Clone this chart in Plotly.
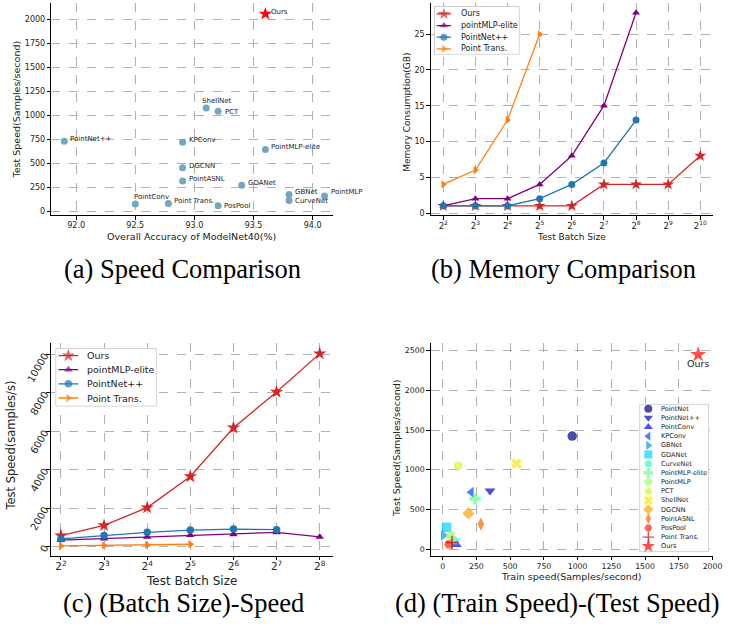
import numpy as np
import plotly.graph_objects as go

W, H = 733, 626

# ---------------- data ----------------
# (a) Speed comparison: accuracy vs test speed
a_models = ["Ours", "ShellNet", "PCT", "PointNet++", "KPConv", "PointMLP-elite", "DGCNN",
            "PointASNL", "GDANet", "GBNet", "PointMLP", "CurveNet", "PointConv",
            "Point Trans.", "PosPool"]
a_accuracy = [93.6, 93.1, 93.2, 91.9, 92.9, 93.6, 92.9, 92.9, 93.4, 93.8, 94.1, 93.8, 92.5, 92.78, 93.2]
a_test_speed = [2055, 1076, 1042, 730, 720, 644, 453, 315, 273, 176, 160, 114, 76, 83, 59]

# (b) Memory comparison
b_batch = [4, 8, 16, 32, 64, 128, 256, 512, 1024]
b_ours = [1, 1, 1, 1, 1, 4, 4, 4, 8]
b_elite = [1, 2, 2, 4, 8, 15, 28]
b_pointnet2 = [1, 1, 1, 2, 4, 7, 13]
b_pointtrans = [4, 6, 13, 25]

# (c) Batch size vs speed
c_batch = [4, 8, 16, 32, 64, 128, 256]
c_ours = [570, 1100, 2030, 3650, 6190, 8050, 10050]
c_elite = [330, 410, 500, 590, 640, 740, 500]
c_pointnet2 = [400, 570, 740, 860, 910, 880]
c_pointtrans = [35, 55, 85, 120]

line_names = ["Ours", "pointMLP-elite", "PointNet++", "Point Trans."]

# (d) Train speed vs test speed
d_models = ["PointNet", "PointNet++", "PointConv", "KPConv", "GBNet", "GDANet", "CurveNet",
            "PointMLP-elite", "PointMLP", "PCT", "ShellNet", "DGCNN", "PointASNL", "PosPool",
            "Point Trans.", "Ours"]
d_train_speed = [960, 351, 102, 212, 5, 30, 90, 241, 58, 115, 548, 192, 283, 46, 70, 1893]
d_test_speed = [1424, 735, 58, 718, 175, 278, 109, 635, 168, 1048, 1078, 451, 317, 62, 85, 2448]

# tick labels
a_xticks = [92.0, 92.5, 93.0, 93.5, 94.0]
a_yticks = [0, 250, 500, 750, 1000, 1250, 1500, 1750, 2000]
b_exps = [2, 3, 4, 5, 6, 7, 8, 9, 10]
b_yticks = [0, 5, 10, 15, 20, 25]
c_exps = [2, 3, 4, 5, 6, 7, 8]
c_yticks = [0, 2000, 4000, 6000, 8000, 10000]
d_xticks = [0, 250, 500, 750, 1000, 1250, 1500, 1750, 2000]
d_yticks = [0, 500, 1000, 1500, 2000, 2500]

captions = ["(a) Speed Comparison", "(b) Memory Comparison",
            "(c) (Batch Size)-Speed", "(d) (Train Speed)-(Test Speed)"]

# ---------------- styles ----------------
line_colors = ["#d62728", "#800080", "#1f77b4", "#ff7f0e"]
line_symbols = ["star", "triangle-up", "circle", "triangle-right"]


def jet(t):
    r = np.interp(t, [0, .35, .66, .89, 1], [0, 0, 1, 1, .5])
    g = np.interp(t, [0, .125, .375, .64, .91, 1], [0, 0, 1, 1, 0, 0])
    b = np.interp(t, [0, .11, .34, .65, 1], [.5, 1, 1, 0, 0])
    return "rgb(%d,%d,%d)" % (r * 255, g * 255, b * 255)


d_colors = [jet(i / 15) for i in range(15)] + ["#ff0000"]
d_symbols = ["circle", "triangle-down", "triangle-up", "triangle-left", "triangle-right",
             "square", "pentagon", "cross", "octagon", "hexagon", "x", "diamond",
             "diamond-tall", "hexagon2", "cross-thin", "star"]
d_sizes = [9.5] * 15 + [12]
d_lw = [1.6 if s == "cross-thin" else 0 for s in d_symbols]


def dx(l, r):
    return [l / W, r / W]


def dy(t, b):
    return [1 - b / H, 1 - t / H]


def px(x):
    return x / W


def py(y):
    return 1 - y / H


A = (52, 3, 338, 216)
B = (436.7, 2.7, 722.7, 216)
C = (51.7, 344, 337.7, 557.7)
D = (436.7, 344, 722.7, 557.7)

TICKC = "#222222"
base_axis = dict(showline=True, linecolor="black", linewidth=1, mirror=False,
                 ticks="outside", ticklen=3.5, tickwidth=0.8, tickcolor="black",
                 showgrid=True, gridcolor="#b0b0b0", griddash="dash", gridwidth=0.8,
                 zeroline=False, fixedrange=True)


def font(size, color=TICKC):
    return dict(family="DejaVu Sans", size=size, color=color)


fig = go.Figure()

# ---------------- (a) ----------------
fig.add_trace(go.Scatter(x=a_accuracy[1:], y=a_test_speed[1:], mode="markers",
                         marker=dict(color="#72a7bf", size=7), xaxis="x", yaxis="y"))
fig.add_trace(go.Scatter(x=a_accuracy[:1], y=a_test_speed[:1], mode="markers",
                         marker=dict(color="red", size=10, symbol="star"), xaxis="x", yaxis="y"))
a_shift = {"ShellNet": (-6, 7), "PCT": (5, -1), "PointConv": (-3, 7.5), "CurveNet": (4, -1),
           "PosPool": (4, 0), "PointMLP": (4, 4.5)}
annotations = []
for name, xv, yv in zip(a_models, a_accuracy, a_test_speed):
    sx, sy = a_shift.get(name, (4, 2.3))
    annotations.append(dict(x=xv, y=yv, xref="x", yref="y", text=name, showarrow=False,
                            xanchor="left", yanchor="middle", xshift=sx, yshift=sy,
                            font=font(7)))

# ---------------- (b) ----------------
b_series = [b_ours, b_elite, b_pointnet2, b_pointtrans]
b_sizes = [9, 7, 7, 7]
for name, ys, col, sym, sz in zip(line_names, b_series, line_colors, line_symbols, b_sizes):
    fig.add_trace(go.Scatter(x=b_batch[:len(ys)], y=ys, mode="lines+markers", name=name,
                             line=dict(color=col, width=1.3),
                             marker=dict(color=col, symbol=sym, size=sz),
                             xaxis="x2", yaxis="y2"))

# ---------------- (c) ----------------
c_series = [c_ours, c_elite, c_pointnet2, c_pointtrans]
c_sizes = [10, 7.5, 7.5, 7.5]
for name, ys, col, sym, sz in zip(line_names, c_series, line_colors, line_symbols, c_sizes):
    fig.add_trace(go.Scatter(x=c_batch[:len(ys)], y=ys, mode="lines+markers", name=name,
                             line=dict(color=col, width=1.3),
                             marker=dict(color=col, symbol=sym, size=sz),
                             xaxis="x3", yaxis="y3"))

# ---------------- (d) ----------------
fig.add_trace(go.Scatter(x=d_train_speed, y=d_test_speed, mode="markers",
                         marker=dict(color=d_colors, symbol=d_symbols, size=d_sizes,
                                     line=dict(color=d_colors, width=d_lw)),
                         xaxis="x4", yaxis="y4"))
annotations.append(dict(x=d_train_speed[-1], y=d_test_speed[-1], xref="x4", yref="y4",
                        text="Ours", showarrow=False, xanchor="center", yanchor="middle",
                        yshift=-9, font=font(9.5)))

# ---------------- manual legends ----------------
legends = [
    dict(ax="5", box=(440, 6, 527, 55), row0=14, step=11.67, line=(442.7, 457.3), mark=450,
         text=465, fs=8, names=line_names, colors=line_colors, symbols=line_symbols,
         sizes=[9, 7, 7, 7], lines=True),
    dict(ax="6", box=(56, 349, 159, 408), row0=356.7, step=14.2, line=(59.3, 79.3), mark=69.3,
         text=86, fs=9.5, names=line_names, colors=line_colors, symbols=line_symbols,
         sizes=[10, 7.5, 7.5, 7.5], lines=True),
    dict(ax="7", box=(648, 405, 719, 554), row0=410, step=9.2, line=None, mark=657.3,
         text=668, fs=6.6, names=d_models, colors=d_colors, symbols=d_symbols,
         sizes=[8] * 15 + [10], lines=False),
]
shapes = []
for lg in legends:
    l, t, r, b = lg["box"]
    xa, ya = "x" + lg["ax"], "y" + lg["ax"]
    rows = [lg["row0"] + i * lg["step"] for i in range(len(lg["names"]))]
    shapes.append(dict(type="rect", xref=xa, yref=ya, x0=l + 0.5, x1=r - 0.5, y0=t + 0.5,
                       y1=b - 0.5, fillcolor="white", line=dict(color="#cccccc", width=1),
                       layer="below"))
    if lg["lines"]:
        for yrow, col in zip(rows, lg["colors"]):
            fig.add_trace(go.Scatter(x=list(lg["line"]), y=[yrow, yrow], mode="lines",
                                     line=dict(color=col, width=1.3),
                                     xaxis=xa, yaxis=ya, hoverinfo="skip"))
    fig.add_trace(go.Scatter(x=[lg["mark"]] * len(rows), y=rows, mode="markers",
                             marker=dict(color=lg["colors"], symbol=lg["symbols"],
                                         size=lg["sizes"],
                                         line=dict(color=lg["colors"],
                                                   width=[1.4 if s == "cross-thin" else 0
                                                          for s in lg["symbols"]])),
                             xaxis=xa, yaxis=ya, hoverinfo="skip"))
    for yrow, name in zip(rows, lg["names"]):
        annotations.append(dict(x=lg["text"], y=yrow, xref=xa, yref=ya, text=name,
                                showarrow=False, xanchor="left", yanchor="middle",
                                font=font(lg["fs"])))
    fig.update_layout(**{
        "xaxis" + lg["ax"]: dict(domain=dx(l, r), range=[l, r], visible=False,
                                 anchor="y" + lg["ax"], fixedrange=True),
        "yaxis" + lg["ax"]: dict(domain=dy(t, b), range=[b, t], visible=False,
                                 anchor="x" + lg["ax"], fixedrange=True),
    })

# ---------------- axis titles (as text) ----------------
axis_titles = [
    ("Overall Accuracy of ModelNet40(%)", 194, 237.5, 0, 9.5),
    ("Test Speed(Samples/second)", 17, 110, -90, 9.5),
    ("Test Batch Size", 579.7, 237.5, 0, 9),
    ("Memory Consumption(GB)", 412.7, 113, -90, 9),
    ("Test Batch Size", 194, 583, 0, 12),
    ("Test Speed(samples/s)", 11.7, 447.5, -90, 11.5),
    ("Train speed(Samples/second)", 579, 578, 0, 9.5),
    ("Test Speed(Samples/second)", 402, 450, -90, 9.5),
]
for txt, xpx, ypx, ang, fs in axis_titles:
    annotations.append(dict(x=px(xpx), y=py(ypx), xref="paper", yref="paper", text=txt,
                            showarrow=False, xanchor="center", yanchor="middle",
                            textangle=ang, font=font(fs)))

# ---------------- captions ----------------
cap_pos = [(185, 270, "center"), (571, 270, "center"), (186, 605, "center"), (398, 605, "left")]
for txt, (xpx, ypx, anc) in zip(captions, cap_pos):
    annotations.append(dict(x=px(xpx), y=py(ypx), xref="paper", yref="paper", text=txt,
                            showarrow=False, xanchor=anc, yanchor="middle",
                            font=dict(family="Liberation Serif", size=26.5, color="black")))

# ---------------- axes ----------------
log2 = np.log10(2)
fig.update_layout(
    xaxis=dict(base_axis, domain=dx(A[0], A[2]), range=[91.79, 94.175], tickvals=a_xticks,
               tickformat=".1f", tickfont=font(8), anchor="y", ticklabelstandoff=-1),
    yaxis=dict(base_axis, domain=dy(A[1], A[3]), range=[-41, 2169], tickvals=a_yticks,
               tickfont=font(8), anchor="x"),
    xaxis2=dict(base_axis, domain=dx(B[0], B[2]), type="log",
                range=[1.61 * log2, 10.39 * log2], tickvals=[2 ** e for e in b_exps],
                ticktext=["2<sup>%d</sup>" % e for e in b_exps], tickfont=font(8.5),
                anchor="y2", ticklabelstandoff=-1),
    yaxis2=dict(base_axis, domain=dy(B[1], B[3]), range=[-0.32, 29.4], tickvals=b_yticks,
                tickfont=font(8), anchor="x2"),
    xaxis3=dict(base_axis, domain=dx(C[0], C[2]), type="log",
                range=[1.77 * log2, 8.31 * log2], tickvals=[2 ** e for e in c_exps],
                ticktext=["2<sup>%d</sup>" % e for e in c_exps], tickfont=font(10.5),
                anchor="y3", ticklabelstandoff=-3),
    yaxis3=dict(base_axis, domain=dy(C[1], C[3]), range=[-488, 10608], tickvals=c_yticks,
                tickformat="d", tickangle=-60, tickfont=font(10), anchor="x3"),
    xaxis4=dict(base_axis, domain=dx(D[0], D[2]), range=[-88, 2002], tickvals=d_xticks,
                tickfont=font(7.8), anchor="y4", ticklabelstandoff=-1),
    yaxis4=dict(base_axis, domain=dy(D[1], D[3]), range=[-84, 2596], tickvals=d_yticks,
                tickfont=font(7.8), anchor="x4"),
)

fig.update_layout(width=W, height=H, margin=dict(l=0, r=0, t=0, b=0),
                  paper_bgcolor="white", plot_bgcolor="white", showlegend=False,
                  annotations=annotations, shapes=shapes)

fig.write_html("out.html", config={"displayModeBar": False},
               post_script="document.body.style.margin='0px';"
                           "document.body.style.overflow='hidden';")
